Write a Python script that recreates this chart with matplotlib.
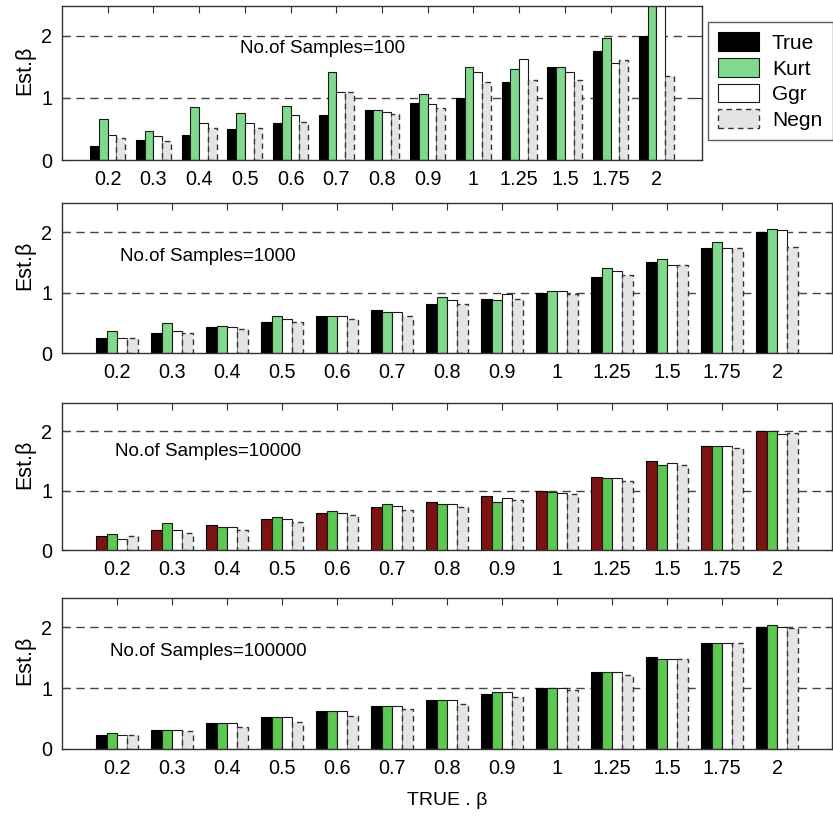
import numpy as np
import matplotlib
matplotlib.use("Agg")
import matplotlib.pyplot as plt
from matplotlib.patches import Patch

plt.rcParams['font.family'] = ['Liberation Sans', 'DejaVu Sans']

categories = ['0.2', '0.3', '0.4', '0.5', '0.6', '0.7', '0.8', '0.9', '1', '1.25', '1.5', '1.75', '2']
series_names = ['True', 'Kurt', 'Ggr', 'Negn']
sample_labels = ['No.of Samples=100', 'No.of Samples=1000', 'No.of Samples=10000', 'No.of Samples=100000']

# Panel 1: 100 samples
p1_true = [0.22, 0.32, 0.41, 0.50, 0.60, 0.72, 0.81, 0.91, 1.00, 1.25, 1.49, 1.75, 2.00]
p1_kurt = [0.66, 0.47, 0.85, 0.75, 0.87, 1.41, 0.81, 1.06, 1.49, 1.47, 1.49, 1.96, 2.90]
p1_ggr  = [0.41, 0.38, 0.59, 0.59, 0.72, 1.09, 0.77, 0.90, 1.41, 1.63, 1.41, 1.56, 2.70]
p1_negn = [0.36, 0.31, 0.51, 0.52, 0.62, 1.09, 0.74, 0.84, 1.26, 1.29, 1.29, 1.61, 1.36]

# Panel 2: 1000 samples
p2_true = [0.24, 0.33, 0.43, 0.52, 0.62, 0.71, 0.81, 0.90, 1.00, 1.26, 1.51, 1.74, 2.00]
p2_kurt = [0.36, 0.49, 0.45, 0.62, 0.62, 0.68, 0.93, 0.87, 1.03, 1.41, 1.55, 1.84, 2.05]
p2_ggr  = [0.24, 0.37, 0.43, 0.56, 0.62, 0.68, 0.87, 0.97, 1.03, 1.35, 1.45, 1.74, 2.03]
p2_negn = [0.24, 0.33, 0.39, 0.52, 0.56, 0.62, 0.81, 0.90, 0.97, 1.29, 1.45, 1.74, 1.76]

# Panel 3: 10000 samples
p3_true = [0.23, 0.33, 0.43, 0.53, 0.62, 0.72, 0.81, 0.91, 1.00, 1.24, 1.50, 1.75, 2.00]
p3_kurt = [0.27, 0.46, 0.39, 0.56, 0.66, 0.78, 0.78, 0.81, 0.98, 1.21, 1.43, 1.75, 2.00]
p3_ggr  = [0.19, 0.33, 0.39, 0.53, 0.62, 0.75, 0.78, 0.88, 0.97, 1.21, 1.46, 1.75, 1.96]
p3_negn = [0.23, 0.29, 0.33, 0.47, 0.59, 0.68, 0.72, 0.84, 0.94, 1.17, 1.43, 1.72, 1.98]

# Panel 4: 100000 samples
p4_true = [0.23, 0.32, 0.42, 0.52, 0.62, 0.71, 0.81, 0.91, 1.00, 1.26, 1.51, 1.74, 2.00]
p4_kurt = [0.26, 0.32, 0.42, 0.52, 0.62, 0.71, 0.81, 0.93, 1.00, 1.26, 1.48, 1.74, 2.03]
p4_ggr  = [0.23, 0.32, 0.42, 0.52, 0.62, 0.71, 0.81, 0.93, 1.00, 1.26, 1.48, 1.74, 2.00]
p4_negn = [0.23, 0.29, 0.36, 0.45, 0.55, 0.65, 0.74, 0.86, 0.97, 1.22, 1.48, 1.74, 1.99]

panels = [
    (p1_true, p1_kurt, p1_ggr, p1_negn),
    (p2_true, p2_kurt, p2_ggr, p2_negn),
    (p3_true, p3_kurt, p3_ggr, p3_negn),
    (p4_true, p4_kurt, p4_ggr, p4_negn),
]

true_colors = ['black', 'black', '#7d1212', 'black']
kurt_colors = ['#80d98c', '#80d98c', '#5cc852', '#5cc852']
negn_fill = '#e4e4e4'

W, H = 833, 817
fig = plt.figure(figsize=(W / 100, H / 100), dpi=100)

# axes boxes in pixels: (left, top, right, bottom)
boxes = [(62, 6, 702, 160), (62, 203, 832, 353), (62, 403, 832, 550), (62, 598, 832, 749)]
text_pos = [(3.9, 1.80), (1.05, 1.59), (0.96, 1.67), (0.87, 1.60)]

x = np.arange(1, len(categories) + 1)
w = 0.19
offsets = np.array([-1.5, -0.5, 0.5, 1.5]) * w

for i, (box, data) in enumerate(zip(boxes, panels)):
    l, t, r, b = box
    ax = fig.add_axes([l / W, 1 - b / H, (r - l) / W, (b - t) / H])
    tv, kv, gv, nv = data
    ax.bar(x + offsets[0], tv, w, color=true_colors[i], edgecolor='black', linewidth=0.8, zorder=2)
    ax.bar(x + offsets[1], kv, w, color=kurt_colors[i], edgecolor='#1a1a1a', linewidth=0.8, zorder=2)
    ax.bar(x + offsets[2], gv, w, color='white', edgecolor='#1a1a1a', linewidth=0.8, zorder=2)
    ax.bar(x + offsets[3], nv, w, color=negn_fill, edgecolor='#333333', linewidth=1.0,
           linestyle=(0, (4, 3)), zorder=2)
    ax.set_xlim(0, len(categories) + 1)
    ax.set_ylim(0, 2.48)
    ax.set_xticks(x)
    ax.set_xticklabels(categories)
    ax.set_yticks([0, 1, 2])
    ax.set_yticklabels(['0', '1', '2'])
    ax.tick_params(axis='x', direction='in', top=True, bottom=True, length=5, pad=7.5,
                   labelsize=14.3, color='#333333')
    ax.tick_params(axis='y', direction='in', left=True, right=True, length=5, pad=7,
                   labelsize=14.3, color='#333333')
    ax.set_axisbelow(True)
    for yv in [1, 2]:
        ax.axhline(yv, color='#444444', linewidth=1.0, linestyle=(0, (6, 4)), zorder=1)
    for s in ax.spines.values():
        s.set_color('#333333')
        s.set_linewidth(1.0)
    ax.set_ylabel('Est.β', fontsize=15.5)
    ax.yaxis.set_label_coords((35 - l) / (r - l), 0.585)
    ax.text(text_pos[i][0], text_pos[i][1], sample_labels[i], fontsize=13.5,
            ha='left', va='center')
    if i == 3:
        ax.set_xlabel('TRUE . β', fontsize=14, labelpad=10)
    if i == 0:
        handles = [
            Patch(facecolor='black', edgecolor='black', linewidth=0.8),
            Patch(facecolor=kurt_colors[0], edgecolor='#1a1a1a', linewidth=0.8),
            Patch(facecolor='white', edgecolor='#1a1a1a', linewidth=0.8),
            Patch(facecolor=negn_fill, edgecolor='#333333', linewidth=1.0, linestyle=(0, (4, 3))),
        ]
        leg = fig.legend(handles, series_names, loc='upper left',
                         bbox_to_anchor=(708 / W, 1 - 22 / H), fontsize=15,
                         frameon=True, fancybox=False, edgecolor='#333333',
                         handlelength=1.97, handleheight=1.0, handletextpad=0.6,
                         labelspacing=0.25, borderpad=0.5, borderaxespad=0)
        leg.get_frame().set_linewidth(1.0)

fig.savefig('out.png', dpi=100)
